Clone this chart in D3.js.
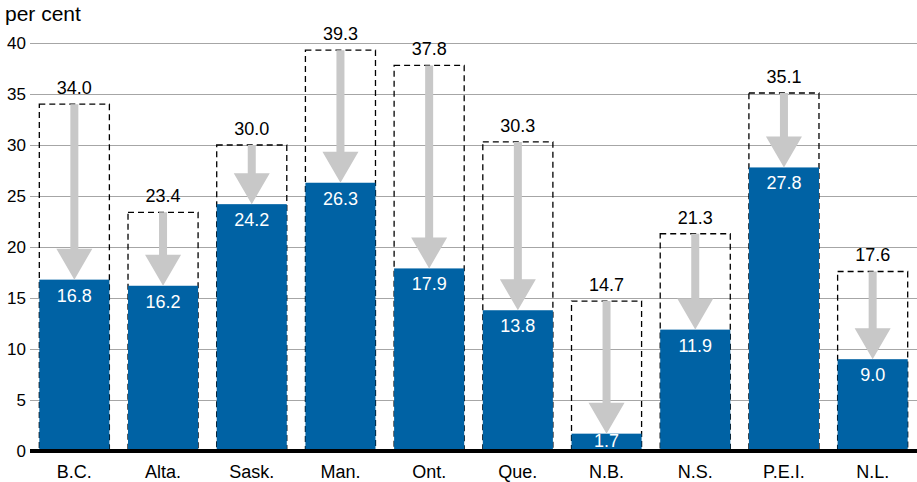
<!DOCTYPE html>
<html>
<head>
<meta charset="utf-8">
<script src="https://cdn.jsdelivr.net/npm/d3@7"></script>
<style>
  body { margin: 0; background: #fff; }
  text { font-family: "Liberation Sans", Arial, sans-serif; }
</style>
</head>
<body>
<div id="chart"></div>
<script>
// provinces, rate before and after the change (per cent)
var provinces = ["B.C.", "Alta.", "Sask.", "Man.", "Ont.", "Que.", "N.B.", "N.S.", "P.E.I.", "N.L."];
var before = [34.0, 23.4, 30.0, 39.3, 37.8, 30.3, 14.7, 21.3, 35.1, 17.6];
var after = [16.8, 16.2, 24.2, 26.3, 17.9, 13.8, 1.7, 11.9, 27.8, 9.0];
var yTicks = [0, 5, 10, 15, 20, 25, 30, 35, 40];

var width = 917, height = 482;
var plot = {x0: 30, x1: 917, y0: 451, y1: 43};

var data = provinces.map(function(p, i) {
  return {name: p, from: before[i], to: after[i]};
});

var svg = d3.select("#chart")
  .append("svg")
  .attr("width", width)
  .attr("height", height);

var x = d3.scaleBand()
  .domain(provinces)
  .range([plot.x0, plot.x1])
  .paddingInner(0.21)
  .paddingOuter(0.105);

var y = d3.scaleLinear()
  .domain([0, 40])
  .range([plot.y0, plot.y1]);

// gridlines + tick labels
var yAxis = svg.append("g")
  .attr("transform", "translate(" + plot.x0 + ",0)")
  .call(d3.axisLeft(y).tickValues(yTicks).tickSize(-(plot.x1 - plot.x0)).tickPadding(4));
yAxis.select(".domain").remove();
yAxis.selectAll(".tick line").attr("stroke", "#a6a6a6").attr("stroke-width", 1.2);
yAxis.selectAll(".tick text")
  .attr("fill", "#000")
  .style("font-size", "17px")
  .style("font-family", "Liberation Sans, Arial, sans-serif");

svg.append("text")
  .attr("x", 5)
  .attr("y", 21)
  .style("font-size", "21px")
  .text("per cent");

var g = svg.append("g");

// dashed box showing the earlier level
g.selectAll(".box")
  .data(data)
  .enter()
  .append("rect")
  .attr("class", "box")
  .attr("x", d => x(d.name))
  .attr("y", d => y(d.from))
  .attr("width", x.bandwidth())
  .attr("height", d => y(0) - y(d.from))
  .attr("fill", "none")
  .attr("stroke", "#000")
  .attr("stroke-width", 1.3)
  .attr("stroke-dasharray", "6,4");

// bars
g.selectAll(".bar")
  .data(data)
  .enter()
  .append("rect")
  .attr("class", "bar")
  .attr("x", d => x(d.name))
  .attr("y", d => y(d.to))
  .attr("width", x.bandwidth())
  .attr("height", d => y(0) - y(d.to))
  .attr("fill", "#0062a4");

// arrows
var headH = 31, headW = 36, shaft = 8;
g.selectAll(".arrow")
  .data(data)
  .enter()
  .append("path")
  .attr("class", "arrow")
  .attr("fill", "#c8c8c8")
  .attr("d", function(d) {
    var cx = x(d.name) + x.bandwidth() / 2;
    var ya = y(d.from), yb = y(d.to);
    var hb = yb - headH;
    return "M" + (cx - shaft / 2) + "," + ya +
      "L" + (cx + shaft / 2) + "," + ya +
      "L" + (cx + shaft / 2) + "," + hb +
      "L" + (cx + headW / 2) + "," + hb +
      "L" + cx + "," + yb +
      "L" + (cx - headW / 2) + "," + hb +
      "L" + (cx - shaft / 2) + "," + hb + "Z";
  });

// labels above boxes
g.selectAll(".lab-from")
  .data(data)
  .enter()
  .append("text")
  .attr("class", "lab-from")
  .attr("x", d => x(d.name) + x.bandwidth() / 2)
  .attr("y", d => y(d.from) - 10)
  .attr("text-anchor", "middle")
  .style("font-size", "18px")
  .text(d => d.from.toFixed(1));

// labels inside bars
g.selectAll(".lab-to")
  .data(data)
  .enter()
  .append("text")
  .attr("class", "lab-to")
  .attr("x", d => x(d.name) + x.bandwidth() / 2)
  .attr("y", d => Math.min(y(d.to) + 22, plot.y0 - 4))
  .attr("text-anchor", "middle")
  .attr("fill", "#fff")
  .style("font-size", "18px")
  .text(d => d.to.toFixed(1));

// baseline
svg.append("line")
  .attr("x1", plot.x0)
  .attr("x2", plot.x1)
  .attr("y1", y(0))
  .attr("y2", y(0))
  .attr("stroke", "#000")
  .attr("stroke-width", 4);

// category labels
svg.selectAll(".cat")
  .data(provinces)
  .enter()
  .append("text")
  .attr("class", "cat")
  .attr("x", d => x(d) + x.bandwidth() / 2)
  .attr("y", 478)
  .attr("text-anchor", "middle")
  .style("font-size", "18px")
  .text(d => d);
</script>
</body>
</html>
